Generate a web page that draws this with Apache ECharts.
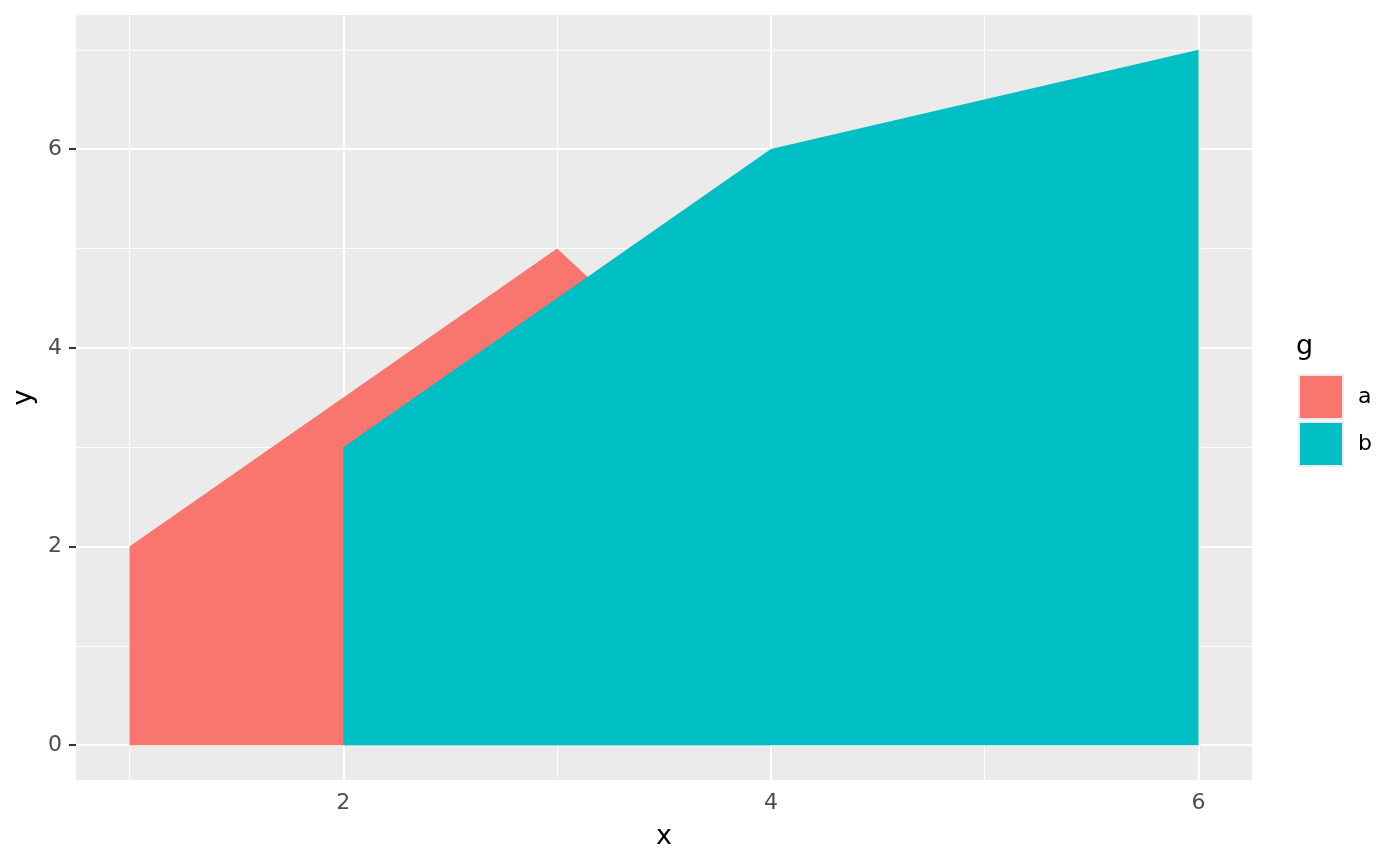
<!DOCTYPE html>
<html>
<head>
<meta charset="utf-8">
<script src="https://cdn.jsdelivr.net/npm/echarts@6/dist/echarts.min.js"></script>
<style>
  html, body { margin: 0; padding: 0; background: #fff; }
  #main { width: 1400px; height: 866px; }
</style>
</head>
<body>
<div id="main"></div>
<script>
// data
var groups = ['a', 'b'];
var aX = [1, 3, 4];
var aY = [2, 5, 3];
var bX = [2, 4, 6];
var bY = [3, 6, 7];
var xTicks = [2, 4, 6];
var xMinor = [1, 3, 5];
var yTicks = [0, 2, 4, 6];
var yMinor = [1, 3, 5, 7];
var colors = ['#F8766D', '#00BFC4'];

function pairs(xs, ys) {
  var out = [];
  for (var i = 0; i < xs.length; i++) out.push([xs[i], ys[i]]);
  return out;
}

// panel grid lines, drawn under the areas
var grid = [];
xMinor.forEach(function (v) { grid.push({ xAxis: v, lineStyle: { width: 1.1 } }); });
yMinor.forEach(function (v) { grid.push({ yAxis: v, lineStyle: { width: 1.1 } }); });
xTicks.forEach(function (v) { grid.push({ xAxis: v, lineStyle: { width: 2.2 } }); });
yTicks.forEach(function (v) { grid.push({ yAxis: v, lineStyle: { width: 2.2 } }); });

var myChart = echarts.init(document.getElementById('main'));

var font = 'DejaVu Sans';
var option = {
  animation: false,
  textStyle: { fontFamily: font },
  grid: {
    left: 76, right: 148, top: 15, bottom: 86,
    show: true, backgroundColor: '#EBEBEB', borderWidth: 0
  },
  title: {
    text: 'g', left: 1296, top: 333, padding: 0,
    textStyle: { fontFamily: font, fontSize: 27, fontWeight: 'normal', color: '#000' }
  },
  legend: {
    data: groups,
    orient: 'vertical',
    left: 1298, top: 374, padding: 0,
    itemWidth: 44, itemHeight: 44, itemGap: 1,
    icon: 'rect',
    itemStyle: { borderColor: '#EBEBEB', borderWidth: 2 },
    textStyle: { fontFamily: font, fontSize: 22, color: '#000', padding: [0, 0, 0, 10] }
  },
  xAxis: {
    type: 'value', min: 0.75, max: 6.25,
    name: 'x', nameLocation: 'middle', nameGap: 43,
    nameTextStyle: { fontFamily: font, fontSize: 27, color: '#000' },
    axisLine: { show: false },
    axisTick: { show: true, length: 7, lineStyle: { color: '#333', width: 2.1 }, customValues: xTicks },
    axisLabel: { color: '#4D4D4D', fontSize: 22, margin: 12, customValues: xTicks },
    splitLine: { show: false }
  },
  yAxis: {
    type: 'value', min: -0.35, max: 7.35,
    name: 'y', nameLocation: 'middle', nameGap: 32,
    nameTextStyle: { fontFamily: font, fontSize: 27, color: '#000' },
    axisLine: { show: false },
    axisTick: { show: true, length: 7, lineStyle: { color: '#333', width: 2.1 }, customValues: yTicks },
    axisLabel: { color: '#4D4D4D', fontSize: 22, margin: 14, customValues: yTicks },
    splitLine: { show: false }
  },
  series: [
    {
      name: 'grid', type: 'line', data: [], zlevel: 0, z: 1, silent: true,
      markLine: {
        silent: true, symbol: 'none', label: { show: false },
        lineStyle: { color: '#fff', type: 'solid' },
        data: grid
      }
    },
    {
      name: 'a', type: 'line', zlevel: 1, z: 3, data: pairs(aX, aY),
      showSymbol: false, symbol: 'none',
      itemStyle: { color: colors[0] },
      lineStyle: { width: 0 },
      areaStyle: { color: colors[0], opacity: 1, origin: 0 }
    },
    {
      name: 'b', type: 'line', zlevel: 1, z: 4, data: pairs(bX, bY),
      showSymbol: false, symbol: 'none',
      itemStyle: { color: colors[1] },
      lineStyle: { width: 0 },
      areaStyle: { color: colors[1], opacity: 1, origin: 0 }
    }
  ]
};

myChart.setOption(option);
</script>
</body>
</html>
